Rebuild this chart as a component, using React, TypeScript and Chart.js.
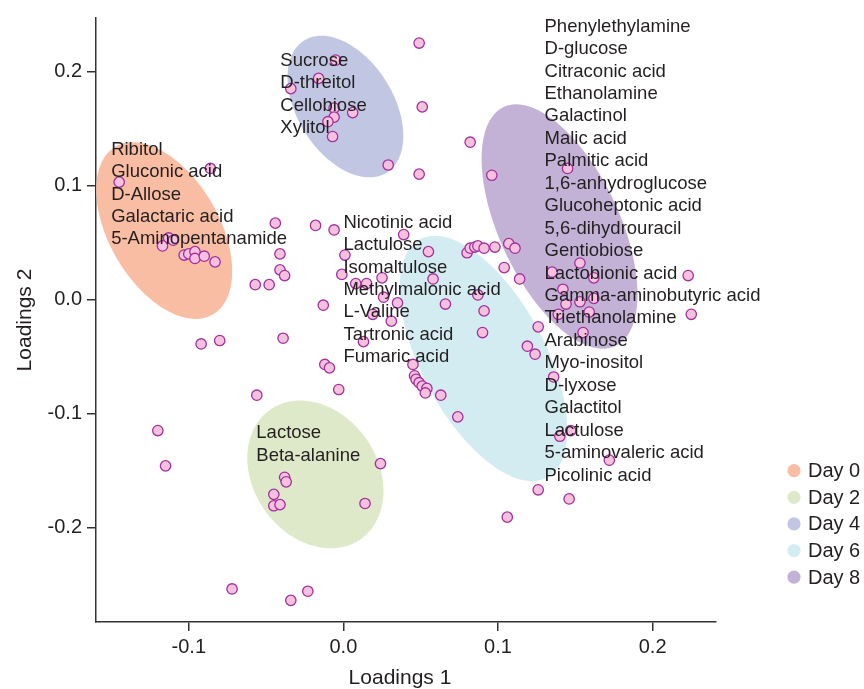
import React, { useEffect, useRef } from "react";
import { Chart, registerables } from "chart.js";

Chart.register(...registerables);

// ---- data ----
const loadings1 = [
  0.049, 0.051, 0.029, 0.049, 0.082, 0.096, 0.145,
  -0.005, -0.016, -0.034, -0.006, 0.006, -0.006, -0.010, -0.007,
  -0.145, -0.086, -0.113, -0.117, -0.110, -0.103, -0.100, -0.096, -0.096, -0.090, -0.083,
  -0.044, -0.018, -0.006, -0.041, -0.041, -0.038, -0.057, -0.048, 0.001, -0.001, -0.013,
  0.039, 0.055, 0.008, 0.015, 0.025, 0.058, 0.026, 0.035, 0.019, 0.031, 0.013, 0.066,
  0.091, 0.090, 0.087, 0.080, 0.082, 0.085, 0.087, 0.091, 0.098, 0.107, 0.111, 0.104,
  0.114, 0.126, 0.119, 0.124, 0.136, 0.045, 0.046, 0.047, 0.049, 0.051, 0.054, 0.053,
  0.063, 0.074,
  0.153, 0.135, 0.162, 0.223, 0.142, 0.144, 0.153, 0.162, 0.159, 0.139, 0.225, 0.155,
  0.140, 0.147, 0.172, 0.126, 0.146, 0.106,
  -0.092, -0.080, -0.039, -0.012, -0.009, -0.003, -0.056, -0.120, -0.115, -0.038, -0.037,
  -0.045, -0.045, -0.041, 0.024, 0.014, -0.072, -0.034, -0.023,
];
const loadings2 = [
  0.225, 0.169, 0.118, 0.110, 0.138, 0.109, 0.115,
  0.210, 0.194, 0.185, 0.168, 0.164, 0.160, 0.156, 0.143,
  0.103, 0.115, 0.054, 0.047, 0.052, 0.039, 0.040, 0.042, 0.036, 0.038, 0.033,
  0.067, 0.065, 0.061, 0.040, 0.026, 0.021, 0.013, 0.013, 0.039, 0.022, -0.005,
  0.057, 0.042, 0.014, 0.014, 0.019, 0.018, 0.002, -0.003, -0.013, -0.019, -0.037, -0.004,
  -0.010, -0.029, 0.004, 0.041, 0.045, 0.046, 0.047, 0.045, 0.046, 0.049, 0.045, 0.028,
  0.018, -0.024, -0.041, -0.048, -0.068, -0.057, -0.067, -0.070, -0.073, -0.076, -0.078, -0.082,
  -0.084, -0.103,
  0.032, 0.024, 0.019, 0.021, 0.009, -0.004, -0.002, 0.001, -0.011, -0.013, -0.013, -0.029,
  -0.120, -0.115, -0.141, -0.167, -0.175, -0.191,
  -0.039, -0.036, -0.034, -0.057, -0.060, -0.079, -0.084, -0.115, -0.146, -0.156, -0.160,
  -0.171, -0.181, -0.180, -0.144, -0.179, -0.254, -0.264, -0.256,
];

const xTicks = [-0.1, 0.0, 0.1, 0.2];
const yTicks = [-0.2, -0.1, 0.0, 0.1, 0.2];

const dayNames = ["Day 0", "Day 2", "Day 4", "Day 6", "Day 8"];
const dayColors = ["#f8bda3", "#dde9c9", "#c1c7e3", "#d3ecf1", "#c3b2d6"];
// ellipse centres (data units) and half-axis vectors (data units)
const ellipseCX = [-0.1159, -0.0181, 0.0013, 0.0906, 0.1398];
const ellipseCY = [0.0605, -0.1535, 0.1693, -0.0518, 0.064];
const ellipseMajorX = [0.0314, 0.0293, 0.0267, 0.041, 0.0361];
const ellipseMajorY = [-0.0737, -0.0568, -0.058, -0.1046, -0.1049];
const ellipseMinorX = [-0.0308, -0.0329, -0.0263, -0.0354, -0.0352];
const ellipseMinorY = [-0.0241, -0.0312, -0.0223, -0.0255, -0.0223];

const labelGroupX = [-0.1502, -0.0563, -0.0408, 0.0, 0.1301];
const labelGroupY = [0.1316, -0.1175, 0.2096, 0.0675, 0.2395];
const labelGroups = [
  ["Ribitol", "Gluconic acid", "D-Allose", "Galactaric acid", "5-Aminopentanamide"],
  ["Lactose", "Beta-alanine"],
  ["Sucrose", "D-threitol", "Cellobiose", "Xylitol"],
  ["Nicotinic acid", "Lactulose", "Isomaltulose", "Methylmalonic acid", "L-Valine", "Tartronic acid", "Fumaric acid"],
  [
    "Phenylethylamine", "D-glucose", "Citraconic acid", "Ethanolamine", "Galactinol", "Malic acid",
    "Palmitic acid", "1,6-anhydroglucose", "Glucoheptonic acid", "5,6-dihydrouracil", "Gentiobiose",
    "Lactobionic acid", "Gamma-aminobutyric acid", "Triethanolamine", "Arabinose", "Myo-inositol",
    "D-lyxose", "Galactitol", "Lactulose", "5-aminovaleric acid", "Picolinic acid",
  ],
];

const FONT = "Arial, 'Liberation Sans', Helvetica, sans-serif";
const TEXT = "#231f20";
const AXIS = "#333333";

const ellipsePlugin = {
  id: "ellipses",
  beforeDatasetsDraw(chart: any) {
    const { ctx, scales } = chart;
    const xs = scales.x, ys = scales.y;
    ctx.save();
    for (let i = 0; i < ellipseCX.length; i++) {
      ctx.beginPath();
      const n = 120;
      for (let k = 0; k <= n; k++) {
        const t = (k / n) * Math.PI * 2;
        const dx = ellipseCX[i] + ellipseMajorX[i] * Math.cos(t) + ellipseMinorX[i] * Math.sin(t);
        const dy = ellipseCY[i] + ellipseMajorY[i] * Math.cos(t) + ellipseMinorY[i] * Math.sin(t);
        const px = xs.getPixelForValue(dx);
        const py = ys.getPixelForValue(dy);
        if (k === 0) ctx.moveTo(px, py);
        else ctx.lineTo(px, py);
      }
      ctx.closePath();
      ctx.fillStyle = dayColors[i];
      ctx.fill();
    }
    ctx.restore();
  },
  afterDatasetsDraw(chart: any) {
    const { ctx, scales } = chart;
    const xs = scales.x, ys = scales.y;
    ctx.save();
    ctx.fillStyle = TEXT;
    ctx.font = `18.5px ${FONT}`;
    ctx.textAlign = "left";
    ctx.textBaseline = "middle";
    for (let g = 0; g < labelGroups.length; g++) {
      const x0 = xs.getPixelForValue(labelGroupX[g]);
      const y0 = ys.getPixelForValue(labelGroupY[g]);
      labelGroups[g].forEach((name, j) => {
        ctx.fillText(name, x0, y0 + j * 22.45);
      });
    }
    ctx.restore();
  },
  afterDraw(chart: any) {
    const { ctx } = chart;
    ctx.save();
    // legend
    ctx.font = `20px ${FONT}`;
    ctx.textBaseline = "middle";
    ctx.textAlign = "left";
    dayNames.forEach((name, i) => {
      const cy = 470.7 + i * 26.6;
      ctx.beginPath();
      ctx.arc(794, cy, 6.6, 0, Math.PI * 2);
      ctx.fillStyle = dayColors[i];
      ctx.fill();
      ctx.fillStyle = TEXT;
      ctx.fillText(name, 808, cy + 1);
    });
    // axis titles
    ctx.fillStyle = TEXT;
    ctx.font = `21px ${FONT}`;
    ctx.textAlign = "center";
    ctx.fillText("Loadings 1", 400, 678);
    ctx.translate(25, 320);
    ctx.rotate(-Math.PI / 2);
    ctx.fillText("Loadings 2", 0, 0);
    ctx.restore();
  },
};

export default function App() {
  const ref = useRef<HTMLCanvasElement | null>(null);
  useEffect(() => {
    if (!ref.current) return;
    const points = loadings1.map((x, i) => ({ x, y: loadings2[i] }));
    const chart = new Chart(ref.current, {
      type: "scatter",
      data: {
        datasets: [
          {
            data: points,
            backgroundColor: "#f6c1de",
            borderColor: "#a3309d",
            borderWidth: 1.3,
            pointRadius: 5.2,
          },
        ],
      },
      options: {
        responsive: false,
        animation: false,
        layout: { padding: { left: 0, top: 18, right: 148, bottom: 0 } },
        plugins: { legend: { display: false }, tooltip: { enabled: false } },
        scales: {
          x: {
            type: "linear",
            min: -0.16,
            max: 0.241,
            afterBuildTicks: (s: any) => {
              s.ticks = xTicks.map((v) => ({ value: v }));
            },
            afterFit: (s: any) => {
              s.height = 67;
            },
            grid: { drawOnChartArea: false, drawTicks: true, tickLength: 9, color: AXIS, lineWidth: 1.5 },
            border: { color: AXIS, width: 1.5 },
            ticks: {
              font: { family: FONT, size: 20 },
              color: TEXT,
              padding: 4,
              maxRotation: 0,
              callback: (v: any) => Number(v).toFixed(1),
            },
          },
          y: {
            type: "linear",
            min: -0.283,
            max: 0.247,
            afterBuildTicks: (s: any) => {
              s.ticks = yTicks.map((v) => ({ value: v }));
            },
            afterFit: (s: any) => {
              s.width = 96;
            },
            grid: { drawOnChartArea: false, drawTicks: true, tickLength: 9, color: AXIS, lineWidth: 1.5 },
            border: { color: AXIS, width: 1.5 },
            ticks: {
              font: { family: FONT, size: 20 },
              color: TEXT,
              padding: 5,
              callback: (v: any) => Number(v).toFixed(1),
            },
          },
        },
      },
      plugins: [ellipsePlugin],
    });
    return () => chart.destroy();
  }, []);
  return (
    <div style={{ position: "absolute", left: 0, top: 0, width: 864, height: 689, background: "#fff" }}>
      <canvas ref={ref} width={864} height={689} style={{ width: 864, height: 689 }} />
    </div>
  );
}
